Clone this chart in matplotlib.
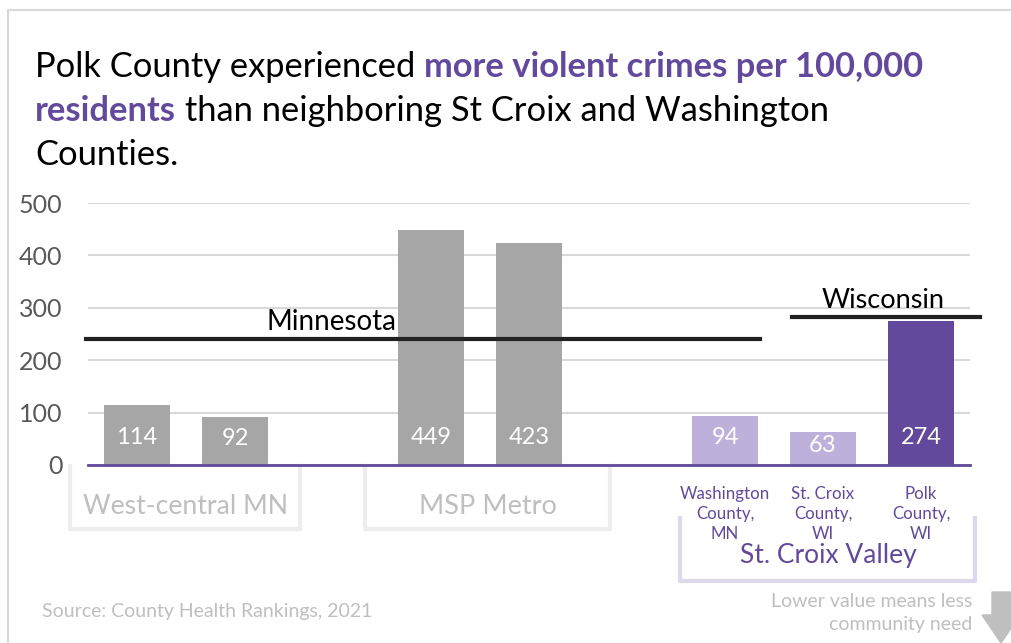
import matplotlib.pyplot as plt
from matplotlib.transforms import blended_transform_factory
from matplotlib.patches import Rectangle, Polygon

plt.rcParams['font.family'] = ['Lato', 'DejaVu Sans']

# data
slots = [0, 1, 3, 4, 6, 7, 8]
values = [114, 92, 449, 423, 94, 63, 274]
colors = ['#A6A6A6', '#A6A6A6', '#A6A6A6', '#A6A6A6', '#BDB1DB', '#BDB1DB', '#62499C']
county_labels = ['Washington\nCounty,\nMN', 'St. Croix\nCounty,\nWI', 'Polk\nCounty,\nWI']
county_slots = [6, 7, 8]
groups = ['West-central MN', 'MSP Metro', 'St. Croix Valley']
group_span = [(-0.68, 1.66), (2.33, 4.83), (5.54, 8.55)]
mn_rate = 240
wi_rate = 282

purple = '#62499C'
W, H = 1011, 643
fig = plt.figure(figsize=(W / 100, H / 100), dpi=100)
ax = fig.add_axes([88 / W, (H - 465) / H, (970 - 88) / W, (465 - 203) / H])

ax.bar(slots, values, width=0.67, color=colors, zorder=2)
for s, v in zip(slots, values):
    ax.text(s, min(v / 2 + 5, 52), str(v), ha='center', va='center',
            color='white', fontsize=17, zorder=3)

ax.set_xlim(-0.5, 8.5)
ax.set_ylim(0, 500)
ax.set_yticks([0, 100, 200, 300, 400, 500])
ax.grid(axis='y', color='#D9D9D9', linewidth=1.5, zorder=0)
ax.set_axisbelow(True)
for sp in ['top', 'right', 'left']:
    ax.spines[sp].set_visible(False)
ax.spines['bottom'].set_color(purple)
ax.spines['bottom'].set_linewidth(2)
ax.spines['bottom'].set_zorder(4)
ax.set_xticks([])
ax.tick_params(axis='y', length=0, pad=18.5, labelsize=18, labelcolor='#595959')

# state reference lines
ax.plot([-0.52, 6.36], [mn_rate, mn_rate], color='#222222', lw=3, clip_on=False, zorder=5)
ax.text(1.32, mn_rate + 8, 'Minnesota', fontsize=20, va='bottom', ha='left', color='black')
ax.plot([6.68, 8.6], [wi_rate, wi_rate], color='#222222', lw=3, clip_on=False, zorder=5)
ax.text(6.99, wi_rate + 8, 'Wisconsin', fontsize=19.5, va='bottom', ha='left', color='black')

# county labels
for s, lab in zip(county_slots, county_labels):
    ax.text(s, -40, lab, ha='center', va='top', color=purple, fontsize=12.2,
            linespacing=1.3)

# group brackets
tr = blended_transform_factory(ax.transData, fig.transFigure)
def bracket(x0, x1, ytop, ybot, col):
    ax.plot([x0, x0, x1, x1], [ytop, ybot, ybot, ytop], color=col, lw=3,
            transform=tr, clip_on=False, solid_joinstyle='round', zorder=1)

bracket(*group_span[0], (H - 466) / H, (H - 529) / H, '#EDEDED')
bracket(*group_span[1], (H - 466) / H, (H - 529) / H, '#EDEDED')
bracket(*group_span[2], (H - 518) / H, (H - 581) / H, '#DDD8EC')
ax.text(sum(group_span[0]) / 2, (H - 507) / H, groups[0], transform=tr,
        ha='center', va='center', fontsize=19.2, color='#BFBFBF')
ax.text(sum(group_span[1]) / 2, (H - 507) / H, groups[1], transform=tr,
        ha='center', va='center', fontsize=19.5, color='#BFBFBF')
ax.text(7.05, (H - 555) / H, groups[2], transform=tr,
        ha='center', va='center', fontsize=19, color=purple)

# title with mixed colours
fs = 24.8
t1 = fig.text(35 / W, 1 - 77 / H, 'Polk County experienced ', fontsize=fs,
              va='baseline', ha='left', color='black')
ax.annotate('more violent crimes per 100,000', xy=(1, 0), xycoords=t1,
            fontsize=fs, fontweight='bold', color=purple, va='bottom', ha='left')
t2 = fig.text(35 / W, 1 - 121 / H, 'residents', fontsize=fs, fontweight='bold',
              va='baseline', ha='left', color=purple)
ax.annotate(' than neighboring St Croix and Washington', xy=(1, 0), xycoords=t2,
            fontsize=fs, color='black', va='bottom', ha='left')
fig.text(35 / W, 1 - 165 / H, 'Counties.', fontsize=fs, va='baseline', ha='left')

# footer
fig.text(42 / W, 1 - 612 / H, 'Source: County Health Rankings, 2021', fontsize=14,
         color='#BFBFBF', va='center', ha='left')
fig.text(972 / W, 1 - 613 / H, 'Lower value means less\ncommunity need', fontsize=14,
         color='#BFBFBF', va='center', ha='right', linespacing=1.45)
arrow = Polygon([(992 / W, 1 - 592 / H), (1011 / W, 1 - 592 / H), (1011 / W, 1 - 615 / H),
                 (1020 / W, 1 - 615 / H), (1001 / W, 1 - 643 / H), (982 / W, 1 - 615 / H),
                 (992 / W, 1 - 615 / H)], closed=True, transform=fig.transFigure,
                color='#BFBFBF', clip_on=False)
fig.patches.append(arrow)

# slide frame
fig.patches.append(Rectangle((8 / W, -0.1), 1.2, 1 - 10 / H + 0.1, transform=fig.transFigure,
                             fill=False, edgecolor='#D9D9D9', lw=1.5))

fig.savefig('out.png', dpi=100)
